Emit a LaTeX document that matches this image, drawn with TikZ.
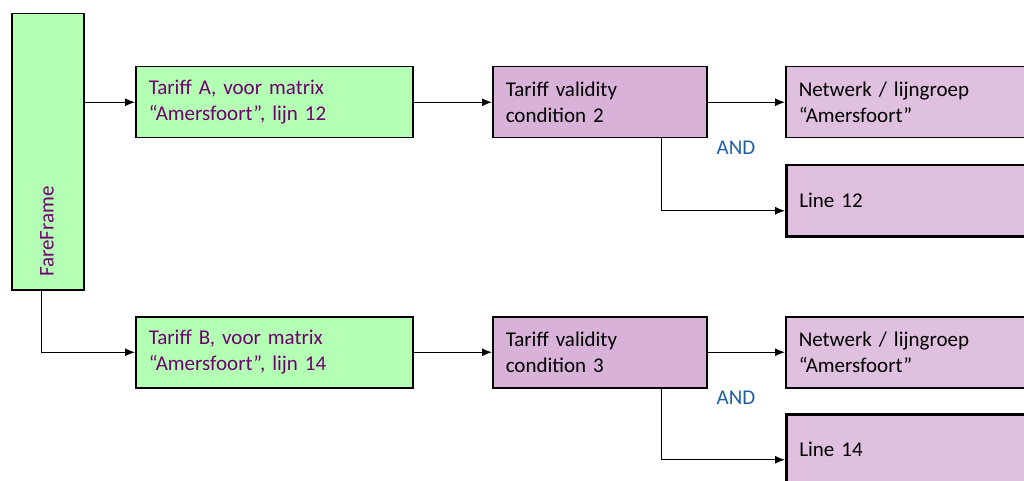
\documentclass[tikz,border=0pt]{standalone}
\usepackage{fontspec}
\setmainfont{Carlito}
\usepackage{tikz}
\usetikzlibrary{arrows.meta, positioning, calc}

\definecolor{framegreen}{HTML}{B3FFB3}
\definecolor{condpurple}{HTML}{D8B2D8}
\definecolor{targetpurple}{HTML}{DFC0DF}
\definecolor{textpurple}{HTML}{700070}
\definecolor{andblue}{HTML}{1F5FA8}

\begin{document}
\begin{tikzpicture}[x=1pt, y=-1pt,
    box/.style={rectangle, draw, line width=1.5pt, anchor=north west, inner xsep=13pt, inner ysep=0pt, align=left, font=\fontsize{21}{26}\selectfont},
    tariffbox/.style={box, fill=framegreen, text=textpurple, minimum width=277pt, minimum height=71pt, text width=251pt},
    condbox/.style={box, fill=condpurple, minimum width=214pt, minimum height=71pt, text width=188pt},
    targetbox/.style={box, fill=targetpurple, minimum width=260pt, minimum height=71pt, text width=234pt},
    linebox/.style={targetbox, line width=2.5pt},
    andlabel/.style={text=andblue, font=\fontsize{21}{26}\selectfont},
    conn/.style={-{Latex[length=10pt, width=8pt]}, line width=1.2pt}]
        \useasboundingbox (0,0) rectangle (1024,481);
        \clip (0,0) rectangle (1024,481);
        % fare frame
        \node[rectangle, draw, line width=1.5pt, fill=framegreen, anchor=north west, minimum width=72pt, minimum height=276pt, inner sep=0pt] (fare) at (11,13) {};
        \node[rotate=90, anchor=west, text=textpurple, inner sep=0pt, font=\fontsize{21}{26}\selectfont] (farelabel) at (47,277) {FareFrame};
        % tariffs
        \node[tariffbox] (tarA) at (135,66) {Tariff A, voor matrix\\``Amersfoort'', lijn 12};
        \node[tariffbox] (tarB) at (135,316) {Tariff B, voor matrix\\``Amersfoort'', lijn 14};
        % validity conditions
        \node[condbox] (cond2) at (492,66) {Tariff validity\\condition 2};
        \node[condbox] (cond3) at (492,316) {Tariff validity\\condition 3};
        % targets
        \node[targetbox] (net2) at (785,66) {Netwerk / lijngroep\\``Amersfoort''};
        \node[linebox] (line12) at (785,164) {Line 12};
        \node[targetbox] (net3) at (785,316) {Netwerk / lijngroep\\``Amersfoort''};
        \node[linebox] (line14) at (785,413) {Line 14};
        \node[andlabel] (and2) at (736,148) {AND};
        \node[andlabel] (and3) at (736,398) {AND};
        % connectors
        \draw[conn] (fare.east |- tarA.west) -- (tarA.west);
        \draw[conn] ([xshift=-6pt]fare.south) |- (tarB.west);
        \draw[conn] (tarA.east) -- (cond2.west);
        \draw[conn] (tarB.east) -- (cond3.west);
        \draw[conn] (cond2.east) -- (net2.west);
        \draw[conn] (cond3.east) -- (net3.west);
        \draw[conn] ([xshift=62pt]cond2.south) |- ([yshift=-10pt]line12.west);
        \draw[conn] ([xshift=62pt]cond3.south) |- ([yshift=-10pt]line14.west);
    \end{tikzpicture}
\end{document}
